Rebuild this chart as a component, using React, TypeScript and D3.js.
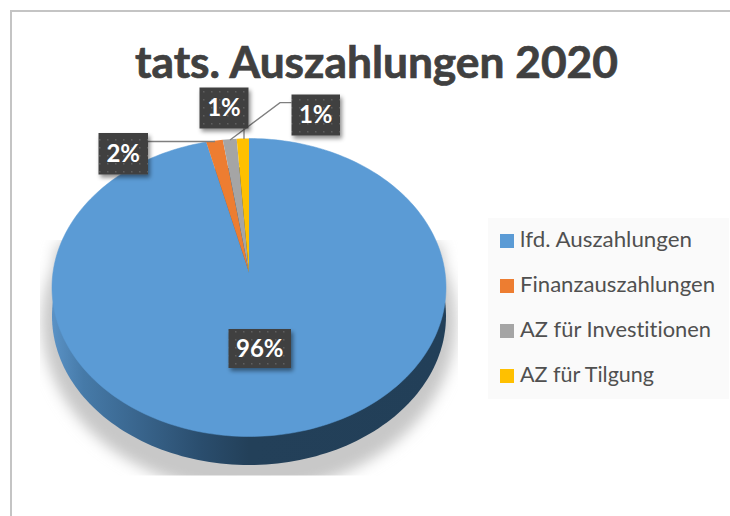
import React from "react";
import * as d3 from "d3";

const categories = ["lfd. Auszahlungen", "Finanzauszahlungen", "AZ für Investitionen", "AZ für Tilgung"];
const values = [96.15, 1.5, 1.25, 1.1];
const colors = ["#5b9bd5", "#ed7d31", "#a5a5a5", "#ffc000"];
const title = "tats. Auszahlungen 2020";

const W = 730, H = 516;
const apex = { x: 249, y: 272.5 };
const k = 0.1007, A = 147.5, B = 196;
const depth = 28.5;
const project = (a: number) => {
  const d = 1 + k * Math.cos(a);
  return [apex.x + (B * Math.sin(a)) / d, apex.y - (A * Math.cos(a)) / d] as [number, number];
};
const pie = d3.pie<number>().sort(null).value((d) => d)(values);
const line = d3.line();
const wedge = (s: number, e: number) => {
  const n = Math.max(2, Math.ceil((e - s) * 40));
  const pts = d3.range(n + 1).map((i) => project(s + ((e - s) * i) / n));
  return line([[apex.x, apex.y], ...pts])! + "Z";
};
const outline = line(d3.range(241).map((i) => project((i / 240) * 2 * Math.PI)))! + "Z";

const labelBoxes = [
  { i: 0, x: 228.5, y: 329, w: 62.5, h: 39 },
  { i: 1, x: 98.5, y: 133, w: 49.5, h: 41.5 },
  { i: 2, x: 199.5, y: 87.5, w: 49, h: 41 },
  { i: 3, x: 291.5, y: 94.5, w: 48.5, h: 41 },
];
const leaders = ["M148 141.5H215", "M230 140L280 102.7H291.5", "M244 128V139"];
const legendY = [241, 286, 331, 376];

export default function App() {
  const font = "Lato, 'Open Sans', sans-serif";
  return (
    <svg width={W} height={H} viewBox={`0 0 ${W} ${H}`} style={{ position: "fixed", left: 0, top: 0, background: "#fff" }}>
      <defs>
        <linearGradient id="side" gradientUnits="userSpaceOnUse" x1={52} x2={446} y1={0} y2={0}>
          <stop offset="0" stopColor="#5a92c6" />
          <stop offset="0.08" stopColor="#467aa8" />
          <stop offset="0.22" stopColor="#39658d" />
          <stop offset="0.38" stopColor="#2a4d6d" />
          <stop offset="0.5" stopColor="#234059" />
          <stop offset="1" stopColor="#223f58" />
        </linearGradient>
        <filter id="blur" x="-10%" y="-10%" width="120%" height="120%">
          <feGaussianBlur stdDeviation="7" />
        </filter>
        <filter id="boxShadow" x="-30%" y="-30%" width="160%" height="160%">
          <feDropShadow dx="2" dy="3" stdDeviation="2" floodColor="#000" floodOpacity="0.45" />
        </filter>
        <pattern id="dots" width={8} height={8} patternUnits="userSpaceOnUse">
          <rect width={8} height={8} fill="#404040" />
          <rect x={3} y={3} width={1.5} height={1.5} fill="#5f5f5f" />
        </pattern>
        <clipPath id="shadowClip">
          <rect x={40} y={240} width={418} height={235.5} />
        </clipPath>
      </defs>

      <path d="M11 516V11H730" fill="none" stroke="#c4c4c4" strokeWidth={2} />

      <text x={376.5} y={78} textAnchor="middle" fontFamily={font} fontWeight={700} fontSize={43} fill="#404040" stroke="#404040" strokeWidth={0.7} textLength={483} lengthAdjust="spacingAndGlyphs">
        {title}
      </text>

      <g clipPath="url(#shadowClip)">
        <g filter="url(#blur)" fill="#c8c8c8">
          <ellipse cx={249} cy={322} rx={207} ry={170} />
          <path d="M56 245L46 340H452L442 245Z" />
        </g>
      </g>

      <path d={outline} transform={`translate(0,${depth})`} fill="url(#side)" />
      {pie.map((p, i) => (
        <path key={categories[i]} d={wedge(p.startAngle, p.endAngle)} fill={colors[i]} stroke={i === 0 ? colors[0] : "none"} strokeWidth={i === 0 ? 0.5 : 0} />
      ))}

      {leaders.map((d) => (
        <path key={d} d={d} fill="none" stroke="#7f7f7f" strokeWidth={1.3} />
      ))}

      {labelBoxes.map((b) => (
        <g key={b.i}>
          <rect x={b.x} y={b.y} width={b.w} height={b.h} fill="url(#dots)" filter="url(#boxShadow)" />
          <text x={b.x + b.w / 2} y={b.y + b.h / 2 + 8.3} textAnchor="middle" fontFamily={font} fontWeight={700} fontSize={24} fill="#fff">
            {`${Math.round(values[b.i])}%`}
          </text>
        </g>
      ))}

      <rect x={488} y={218} width={241} height={181} fill="#fafafa" />
      {categories.map((c, i) => (
        <g key={c}>
          <rect x={500} y={legendY[i] - 7} width={14} height={14} fill={colors[i]} />
          <text x={520} y={legendY[i] + 6} fontFamily={font} fontSize={21} fill="#505050" style={{ fontVariantLigatures: "none" }} textLength={[172, 195, 191, 134][i]} lengthAdjust="spacingAndGlyphs">
            {c}
          </text>
        </g>
      ))}
    </svg>
  );
}
